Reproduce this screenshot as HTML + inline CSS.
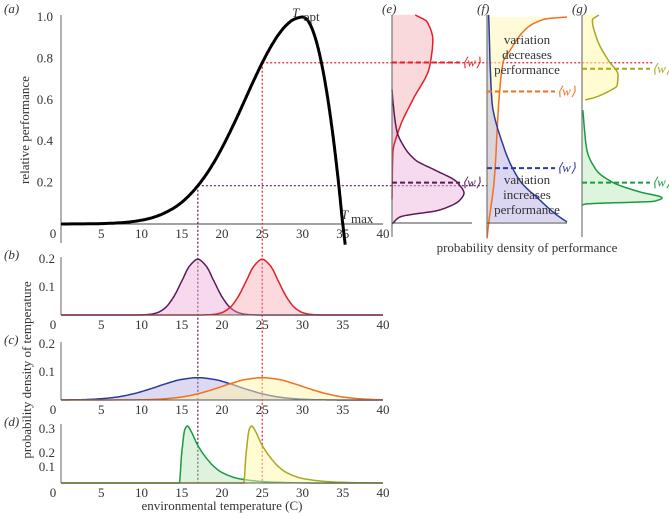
<!DOCTYPE html>
<html><head><meta charset="utf-8"><style>
html,body{margin:0;padding:0;background:#fff}
svg{display:block}
text{font-family:"Liberation Serif",serif;font-size:13px;fill:#333}
</style></head><body>
<svg id="fig" width="669" height="516" viewBox="0 0 669 516"></svg>
<script>
// ---- data: thermal performance curve (a)
const tpcT=[0,2,4,6,8,10,11,12,13,14,15,16,17,18,19,20,21,22,23,24,25,26,27,28,29,30,30.5,31,31.5,32,32.5,33,33.5,34,34.5,35,35.3];
const tpcP=[0.0001,0.0004,0.0012,0.0032,0.0079,0.0183,0.027,0.039,0.056,0.077,0.105,0.141,0.185,0.237,0.298,0.368,0.445,0.527,0.613,0.698,0.779,0.852,0.914,0.961,0.990,1.0,0.99,0.96,0.91,0.84,0.75,0.64,0.51,0.36,0.19,0.0,-0.1];
// ---- (b) narrow normals
const bT1=[0,9,10,11,12,13,14,15,16,17,18,19,20,21,22,23,24,25,40];
const bD1=[0,0,0.0004,0.0022,0.0088,0.027,0.065,0.121,0.176,0.199,0.176,0.121,0.065,0.027,0.0088,0.0022,0.0004,0,0];
const bT2=[0,17,18,19,20,21,22,23,24,25,26,27,28,29,30,31,32,33,40];
const bD2=[0,0,0.0004,0.0022,0.0088,0.027,0.065,0.121,0.176,0.199,0.176,0.121,0.065,0.027,0.0088,0.0022,0.0004,0,0];
// ---- (c) wide normals
const cT1=[0,1,3,5,7,9,11,13,15,17,19,21,23,25,27,29,31,33,35,40];
const cD1=[0.0003,0.0005,0.0016,0.0045,0.0108,0.0222,0.0388,0.0579,0.0736,0.0798,0.0736,0.0579,0.0388,0.0222,0.0108,0.0045,0.0016,0.0005,0.0001,0];
const cT2=[0,5,9,11,13,15,17,19,21,23,25,27,29,31,33,35,37,39,40];
const cD2=[0,0.0001,0.0005,0.0016,0.0045,0.0108,0.0222,0.0388,0.0579,0.0736,0.0798,0.0736,0.0579,0.0388,0.0222,0.0108,0.0045,0.0016,0.0009];
// ---- (d) skewed
const dT1=[0,14.7,15,15.4,15.7,16,17,18,19,20,22,25,28,32,40];
const dD1=[0,0,0.2,0.36,0.38,0.36,0.25,0.17,0.11,0.07,0.03,0.01,0.003,0,0];
const dT2=[0,22.7,23,23.4,23.7,24,25,26,27,28,30,33,36,40];
const dD2=[0,0,0.2,0.36,0.38,0.36,0.25,0.17,0.11,0.07,0.03,0.01,0.003,0];
// ---- (e,f,g) performance densities (perf level, relative density)
const ePurpP=[0,0.034,0.068,0.116,0.15,0.19,0.21,0.26,0.31,0.38,0.45,0.6,0.65];
const ePurpD=[0,0.1,0.6,0.85,0.9,0.84,0.79,0.54,0.29,0.14,0.06,0.01,0];
const eRedP=[0.12,0.34,0.47,0.6,0.76,0.89,0.976,1.01];
const eRedD=[0,0.01,0.1,0.26,0.47,0.51,0.44,0.29];
const fBlueP=[0.01,0.05,0.116,0.21,0.36,0.6,1.01];
const fBlueD=[1.0,0.85,0.66,0.41,0.22,0.06,0.02];
const fOrP=[-0.07,0,0.21,0.6,0.78,0.84,0.94,0.99,1.0];
const fOrD=[0,0.02,0.09,0.15,0.2,0.29,0.48,0.72,1.0];
const gOlP=[0.6,0.61,0.64,0.67,0.72,0.79,0.89,0.985,1.01];
const gOlD=[0.04,0.15,0.33,0.44,0.45,0.33,0.19,0.13,0.21];
const gGrP=[0.092,0.097,0.11,0.126,0.155,0.2,0.26,0.36,0.55];
const gGrD=[0,0.06,0.9,1.0,0.72,0.39,0.18,0.06,0.01];
const xTicks=[0,5,10,15,20,25,30,35,40];
const aTicks=[0.2,0.4,0.6,0.8,1.0];
const meanE=[0.78,0.2], meanF=[0.64,0.27], meanG=[0.75,0.2];

const NS='http://www.w3.org/2000/svg', svg=document.getElementById('fig');
function mk(tag,at,parent){const e=document.createElementNS(NS,tag);for(const k in at)e.setAttribute(k,at[k]);(parent||svg).appendChild(e);return e;}
function txt(x,y,s,at){const e=mk('text',Object.assign({x:x,y:y},at||{}));e.textContent=s;return e;}
const X=t=>61+8.05*t;
const Ya=v=>224-207*v;
// monotone cubic interpolation sampled densely; returns [[x,y]] in data space
function mono(xs,ys){const n=xs.length,d=[],m=[];
 for(let i=0;i<n-1;i++)d.push((ys[i+1]-ys[i])/(xs[i+1]-xs[i]));
 m[0]=d[0];m[n-1]=d[n-2];
 for(let i=1;i<n-1;i++){m[i]=(d[i-1]*d[i]<=0)?0:3*(d[i-1]+d[i])/((2*d[i]+d[i-1])/d[i-1]*0+ (1/d[i-1]+1/d[i])*1.5*((d[i-1]+d[i])/2)||1);
  m[i]=(d[i-1]*d[i]<=0)?0:2/(1/d[i-1]+1/d[i]);}
 const out=[];
 for(let i=0;i<n-1;i++){const h=xs[i+1]-xs[i],N=Math.max(2,Math.ceil(h/0.05*0+12));
  for(let k=0;k<N;k++){const t=k/N,t2=t*t,t3=t2*t;
   const y=(2*t3-3*t2+1)*ys[i]+(t3-2*t2+t)*h*m[i]+(-2*t3+3*t2)*ys[i+1]+(t3-t2)*h*m[i+1];
   out.push([xs[i]+t*h,y]);}}
 out.push([xs[n-1],ys[n-1]]);return out;}
const poly=pts=>'M'+pts.map(p=>p[0].toFixed(1)+','+p[1].toFixed(1)).join(' L');

// panel (a)
mk('line',{x1:61,y1:15,x2:61,y2:243,stroke:'#666','stroke-width':1,});
mk('line',{x1:61,y1:224,x2:383,y2:224,stroke:'#444','stroke-width':1,});
aTicks.forEach(v=>{txt(53,Ya(v)+4,v.toFixed(1),{'text-anchor':'end',});});
xTicks.forEach(t=>{txt(X(t)+(t===0?-8:0),238,String(t),{'text-anchor':'middle',});});
txt(4,13,'(a)',{'font-style':'italic',});
txt(29,130,'relative performance',{'text-anchor':'middle',transform:'rotate(-90 29 130)',});
const p17=tpcP[tpcT.indexOf(17)], p25=tpcP[tpcT.indexOf(25)];
mk('path',{d:'M'+X(17)+','+Ya(p17)+' H489 M'+X(17)+','+Ya(p17)+' V483',stroke:'#5a1a5a','stroke-width':1.2,'stroke-dasharray':'2,2',fill:'none',});
mk('path',{d:'M'+X(25)+','+Ya(p25)+' H653 M'+X(25)+','+Ya(p25)+' V483',stroke:'#e0202a','stroke-width':1.2,'stroke-dasharray':'2,2',fill:'none',});
mk('path',{d:poly(mono(tpcT,tpcP).map(p=>[X(p[0]),Ya(p[1])])),stroke:'#000','stroke-width':3,fill:'none',});
txt(292,17,'T',{'font-style':'italic','font-size':14,});
txt(303,21,'opt',{'font-size':10,});
txt(341,219,'T',{'font-style':'italic','font-size':14,});
txt(351,223,'max',{'font-size':10,});

function dpanel(name,lab,base,scale,top,ticks,tickY,series){
 mk('line',{x1:61,y1:top,x2:61,y2:base,stroke:'#666',});
 series.forEach(s=>{const pts=mono(s.T,s.D).map(p=>[X(p[0]),base-scale*Math.max(0,p[1])]);
  mk('path',{d:poly(pts)+' L'+X(s.T[s.T.length-1])+','+base+' L'+X(s.T[0])+','+base+'Z',fill:s.fill,stroke:'none',});
  mk('path',{d:poly(pts),fill:'none',stroke:s.c,'stroke-width':1.5,});});
 mk('line',{x1:61,y1:base,x2:383,y2:base,stroke:'#555',});
 ticks.forEach((v,i)=>txt(55,tickY[i]+4,String(v),{'text-anchor':'end',}));
 xTicks.forEach(t=>txt(X(t)+(t===0?-8:0),base+14,String(t),{'text-anchor':'middle',}));
 txt(4,top+2,lab,{'font-style':'italic',});
}
dpanel('b','(b)',315,280,257,[0.2,0.1],[259,287],[{n:'cold',T:bT1,D:bD1,c:'#5a1a5a',fill:'rgba(235,170,215,0.45)'},{n:'warm',T:bT2,D:bD2,c:'#e0202a',fill:'rgba(245,160,170,0.4)'}]);
dpanel('c','(c)',400,280,342,[0.2,0.1],[344,372],[{n:'cold',T:cT1,D:cD1,c:'#2a3c9a',fill:'rgba(170,160,220,0.4)'},{n:'warm',T:cT2,D:cD2,c:'#f07020',fill:'rgba(255,245,170,0.5)'}]);
dpanel('d','(d)',483,150,424,[0.3,0.2,0.1],[429,453,467],[{n:'cold',T:dT1,D:dD1,c:'#1a9a40',fill:'rgba(170,225,170,0.4)'},{n:'warm',T:dT2,D:dD2,c:'#a8a820',fill:'rgba(255,250,170,0.5)'}]);
txt(31,370,'probability density of temperature',{'text-anchor':'middle',transform:'rotate(-90 31 370)',});
txt(222,510,'environmental temperature (C)',{'text-anchor':'middle',});

function rpanel(name,lab,x0,series,means,baseline){
 const P=s=>{const o=s.P.map((p,i)=>[p,s.D[i]]).sort((a,b)=>a[0]-b[0]);return mono(o.map(a=>a[0]),o.map(a=>a[1])).map(q=>[x0+80*Math.max(0,q[1]),Ya(q[0])]);};
 series.forEach(s=>{const pts=P(s);
  mk('path',{d:poly(pts)+' L'+x0+','+pts[pts.length-1][1]+' L'+x0+','+pts[0][1]+'Z',fill:s.fill,stroke:'none',});});
 series.forEach(s=>{mk('path',{d:poly(P(s)),fill:'none',stroke:s.c,'stroke-width':1.5,});});
 mk('line',{x1:x0,y1:15,x2:x0,y2:237,stroke:'#777','stroke-width':1.2,});
 if(baseline)mk('line',{x1:x0,y1:223,x2:x0+80,y2:223,stroke:'#444',});
 means.forEach((m,i)=>{const c=series[i].c,y=Ya(m);
  mk('line',{x1:x0,y1:y,x2:x0+68,y2:y,stroke:c,'stroke-width':2,'stroke-dasharray':'5,3',});
  txt(x0+70,y+4,'\u27E8w\u27E9',{style:'fill:'+c+';font-style:italic',});});
 txt(x0-10,13,lab,{'font-style':'italic',});
}
rpanel('e','(e)',392,[{n:'warm',P:eRedP,D:eRedD,c:'#e0202a',fill:'rgba(245,170,180,0.45)'},{n:'cold',P:ePurpP,D:ePurpD,c:'#5a1a5a',fill:'rgba(235,175,220,0.45)'}],[meanE[0],meanE[1]],true);
rpanel('f','(f)',487,[{n:'warm',P:fOrP,D:fOrD,c:'#f07020',fill:'rgba(255,248,190,0.6)'},{n:'cold',P:fBlueP,D:fBlueD,c:'#2a3c9a',fill:'rgba(175,165,225,0.45)'}],[meanF[0],meanF[1]],true);
rpanel('g','(g)',582,[{n:'warm',P:gOlP,D:gOlD,c:'#a8a820',fill:'rgba(255,250,180,0.6)'},{n:'cold',P:gGrP,D:gGrD,c:'#1a9a40',fill:'rgba(180,230,180,0.45)'}],[meanG[0],meanG[1]],false);
txt(527,44,'variation',{'text-anchor':'middle',});
txt(527,59,'decreases',{'text-anchor':'middle',});
txt(527,74,'performance',{'text-anchor':'middle',});
txt(527,184,'variation',{'text-anchor':'middle',});
txt(527,199,'increases',{'text-anchor':'middle',});
txt(527,214,'performance',{'text-anchor':'middle',});
txt(527,252,'probability density of performance',{'text-anchor':'middle',});
</script>
</body></html>
